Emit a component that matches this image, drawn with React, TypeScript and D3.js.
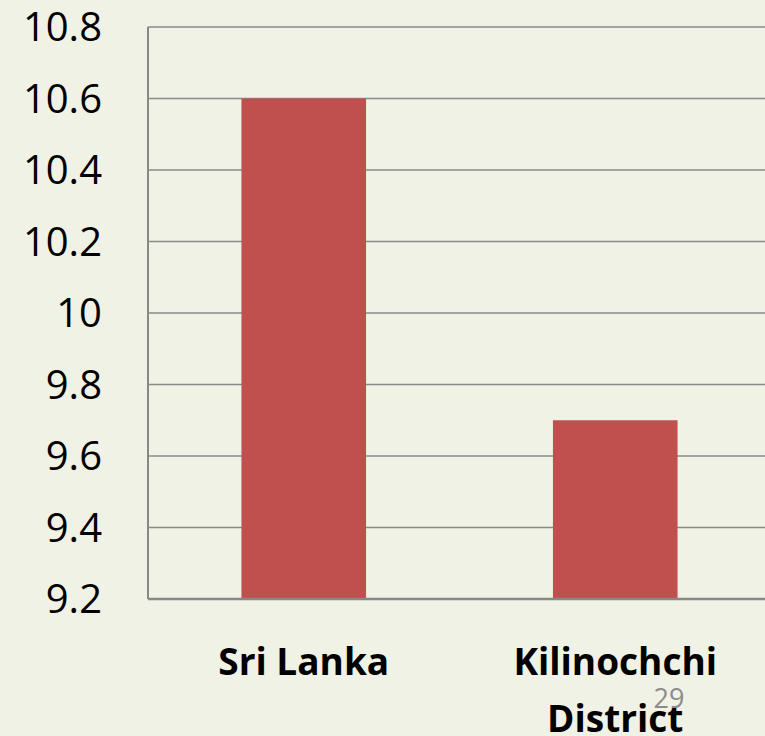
// @ts-nocheck
import * as d3 from 'd3';
import React, { useEffect, useRef } from 'react';

const categories = ['Sri Lanka', 'Kilinochchi District'];
const categoryLines = [['Sri Lanka'], ['Kilinochchi', 'District']];
const values = [10.6, 9.7];
const yTicks = [9.2, 9.4, 9.6, 9.8, 10, 10.2, 10.4, 10.6, 10.8];
const pageNumber = '29';

const App: React.FC = () => {
  const svgRef = useRef<SVGSVGElement>(null);
  const width = 765;
  const height = 736;

  useEffect(() => {
    document.body.style.margin = '0';
    if (!svgRef.current) return;
    const svg = d3.select(svgRef.current);
    svg.selectAll('*').remove();

    const margin = { top: 27, right: -6, bottom: 137, left: 148 };
    const innerWidth = width - margin.left - margin.right;
    const innerHeight = height - margin.top - margin.bottom;

    svg.append('rect').attr('width', width).attr('height', height).attr('fill', '#EFF2E4');

    const g = svg.append('g').attr('transform', `translate(${margin.left},${margin.top})`);

    const xScale = d3.scaleBand().domain(categories).range([0, innerWidth]).paddingInner(0.6).paddingOuter(0.3);
    const yScale = d3.scaleLinear().domain([9.2, 10.8]).range([innerHeight, 0]);

    // gridlines
    g.selectAll('.grid')
      .data(yTicks)
      .enter()
      .append('line')
      .attr('x1', 0)
      .attr('x2', innerWidth)
      .attr('y1', d => yScale(d))
      .attr('y2', d => yScale(d))
      .attr('stroke', '#8a8a8a')
      .attr('stroke-width', 1.5);

    // bars
    g.selectAll('.bar')
      .data(values)
      .enter()
      .append('rect')
      .attr('x', (d, i) => xScale(categories[i]))
      .attr('width', xScale.bandwidth())
      .attr('y', d => yScale(d))
      .attr('height', d => innerHeight - yScale(d))
      .attr('fill', '#C0504D');

    // axes lines
    g.append('line')
      .attr('x1', 0).attr('x2', 0)
      .attr('y1', 0).attr('y2', innerHeight)
      .attr('stroke', '#888').attr('stroke-width', 2);
    g.append('line')
      .attr('x1', 0).attr('x2', innerWidth)
      .attr('y1', innerHeight).attr('y2', innerHeight)
      .attr('stroke', '#888').attr('stroke-width', 2.5);

    // y tick labels
    g.selectAll('.ytick')
      .data(yTicks)
      .enter()
      .append('text')
      .attr('x', -46)
      .attr('y', d => yScale(d))
      .attr('dy', '0.36em')
      .attr('text-anchor', 'end')
      .style('font-family', '"Open Sans", sans-serif')
      .style('font-size', '40px')
      .style('fill', '#000')
      .text(d => (d === 10 ? '10' : d3.format('.1f')(d)));

    // category labels
    categoryLines.forEach((lines, i) => {
      const cx = xScale(categories[i]) + xScale.bandwidth() / 2;
      lines.forEach((line, j) => {
        g.append('text')
          .attr('x', cx)
          .attr('y', innerHeight + 76 + j * 57)
          .attr('text-anchor', 'middle')
          .style('font-family', '"Open Sans", sans-serif')
          .style('font-weight', 'bold')
          .style('font-size', '37px')
          .style('fill', '#000')
          .text(line);
      });
    });

    // page number
    svg.append('text')
      .attr('x', 669)
      .attr('y', 708)
      .attr('text-anchor', 'middle')
      .style('font-family', '"Open Sans", sans-serif')
      .style('font-size', '27px')
      .style('fill', '#8c8c8c')
      .text(pageNumber);
  }, []);

  return <svg ref={svgRef} width={width} height={height} style={{ display: 'block' }} />;
};

export default App;
